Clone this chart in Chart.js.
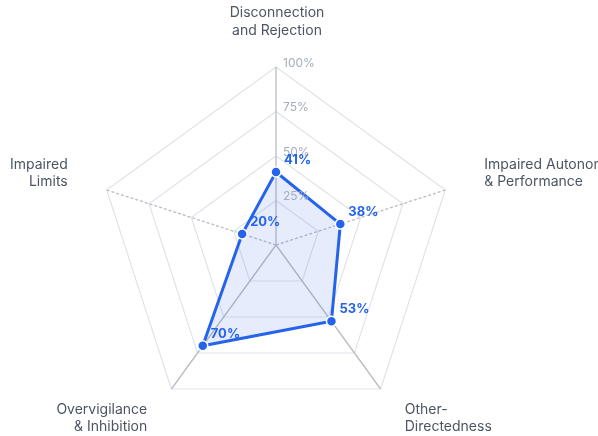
<!DOCTYPE html>
<html>
<head>
<meta charset="utf-8">
<script src="https://cdn.jsdelivr.net/npm/chart.js@4"></script>
<style>
html,body{margin:0;padding:0;background:#fff;overflow:hidden;}
#wrap{width:598px;height:436px;position:relative;}
</style>
</head>
<body>
<div id="wrap"><canvas id="c" width="598" height="436"></canvas></div>
<script>
const categories = [
  ["Disconnection", "and Rejection"],
  ["Impaired Autonomy", "& Performance"],
  ["Other-", "Directedness"],
  ["Overvigilance", "& Inhibition"],
  ["Impaired", "Limits"]
];
const scores = [41, 38, 53, 70, 20];
const tickValues = [25, 50, 75, 100];
const dashedAxes = [1, 4];

const FONT = "Inter, 'Noto Sans', sans-serif";

const overlay = {
  id: 'overlay',
  afterDraw(chart) {
    const ctx = chart.ctx;
    const r = chart.scales.r;
    ctx.save();
    ctx.font = "12px " + FONT;
    ctx.fillStyle = "#a3adbd";
    ctx.textAlign = "left";
    ctx.textBaseline = "middle";
    tickValues.forEach(v => {
      const d = r.getDistanceFromCenterForValue(v);
      ctx.fillText(v + "%", r.xCenter + 7, r.yCenter - d - 4);
    });
    ctx.font = "14px " + FONT;
    ctx.fillStyle = "#4b5563";
    const lh = 17.5;
    categories.forEach((lines, i) => {
      const p = r.getPointPosition(i, r.drawingArea + 41);
      let align = "center";
      if (p.x > r.xCenter + 5) align = "left";
      else if (p.x < r.xCenter - 5) align = "right";
      ctx.textAlign = align;
      const cy = p.y - 4;
      const top = cy - (lines.length - 1) * lh / 2;
      lines.forEach((t, k) => ctx.fillText(t, p.x + (align === "center" ? 1 : 0), top + k * lh));
    });
    ctx.font = "bold 13px " + FONT;
    ctx.fillStyle = "#2563eb";
    ctx.textAlign = "left";
    const meta = chart.getDatasetMeta(0);
    meta.data.forEach((pt, i) => {
      ctx.fillText(scores[i] + "%", pt.x + 8, pt.y - 12);
    });
    ctx.restore();
  }
};

new Chart(document.getElementById('c'), {
  type: 'radar',
  data: {
    labels: categories.map(l => l.join(' ')),
    datasets: [{
      data: scores,
      borderColor: '#2563eb',
      backgroundColor: 'rgba(59,110,235,0.13)',
      borderWidth: 3,
      fill: true,
      pointRadius: 5,
      pointHoverRadius: 5,
      pointBackgroundColor: '#2563eb',
      pointBorderColor: '#ffffff',
      pointBorderWidth: 1.5
    }]
  },
  options: {
    responsive: false,
    animation: false,
    devicePixelRatio: 1,
    layout: { padding: { top: 67, bottom: 13, left: 4, right: 50 } },
    plugins: { legend: { display: false }, tooltip: { enabled: false } },
    scales: {
      r: {
        min: 0,
        max: 100,
        ticks: { display: false, stepSize: 25 },
        pointLabels: { display: false },
        grid: { color: '#dfe3ea', lineWidth: 1.2 },
        angleLines: {
          color: '#b9bcc2',
          lineWidth: 1.3,
          borderDash: (ctx) => dashedAxes.includes(ctx.index) ? [3, 2] : []
        }
      }
    }
  },
  plugins: [overlay]
});
</script>
</body>
</html>
